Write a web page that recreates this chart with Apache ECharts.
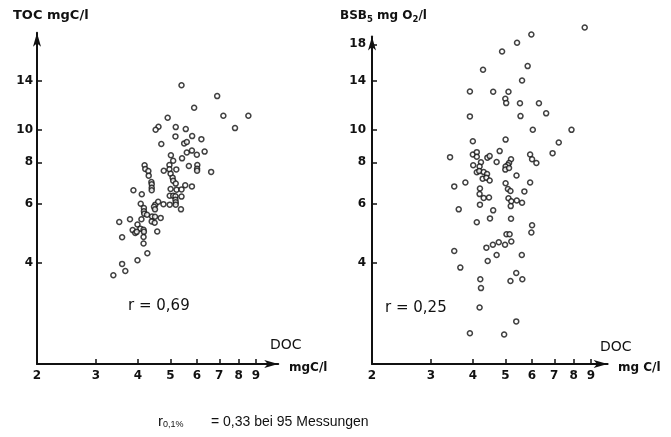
<!DOCTYPE html>
<html>
<head>
<meta charset="utf-8">
<script src="https://cdn.jsdelivr.net/npm/echarts@6/dist/echarts.min.js"></script>
<style>
  html, body { margin: 0; padding: 0; background: #fff; }
  #chart { width: 671px; height: 437px; }
</style>
</head>
<body>
<div id="chart"></div>
<script>
// Tick labels
const docTicks = [2, 3, 4, 5, 6, 7, 8, 9];
const tocTicks = [4, 6, 8, 10, 14];
const bsbTicks = [4, 6, 8, 10, 14, 18];

// Left panel: DOC vs TOC (mg C/l), 95 samples
const docToc = [5.40, 6.90, 5.89, 4.91, 7.20, 8.55, 7.80, 4.61, 4.52, 5.19,
  5.56, 5.18, 5.81, 6.19, 4.70, 5.50, 5.60, 5.02, 5.42, 5.60,
  5.80, 6.00, 6.33, 5.10, 5.68, 6.02, 6.01, 6.01, 6.62, 5.21,
  4.78, 4.97, 4.97, 5.01, 5.08, 4.19, 4.21, 4.30, 4.31, 5.10,
  5.19, 4.39, 4.40, 4.40, 4.40, 5.54, 5.80, 5.01, 5.22, 5.40,
  3.88, 4.11, 4.98, 5.10, 5.18, 5.40, 5.18, 5.19, 5.19, 4.77,
  4.98, 5.38, 4.08, 4.51, 4.47, 4.60, 4.17, 4.17, 4.18, 4.26,
  4.41, 4.50, 4.68, 4.10, 3.79, 3.52, 3.99, 4.40, 4.49, 4.07,
  4.16, 3.86, 3.93, 3.97, 4.17, 4.57, 4.16, 3.59, 4.16, 4.27,
  3.99, 3.59, 3.67, 3.38, 4.50];
const toc = [13.59, 12.61, 11.64, 10.87, 11.02, 11.02, 10.12, 10.21, 10.01, 10.19,
  10.05, 9.56, 9.58, 9.38, 9.07, 9.11, 9.20, 8.40, 8.22, 8.56,
  8.67, 8.43, 8.61, 8.09, 7.80, 7.85, 7.65, 7.55, 7.49, 7.62,
  7.55, 7.85, 7.63, 7.40, 7.20, 7.84, 7.64, 7.53, 7.30, 7.05,
  6.91, 6.99, 6.88, 6.72, 6.60, 6.83, 6.78, 6.66, 6.63, 6.64,
  6.60, 6.42, 6.36, 6.36, 6.33, 6.32, 6.19, 6.08, 5.98, 6.00,
  5.98, 5.79, 6.02, 5.98, 5.89, 6.10, 5.84, 5.71, 5.62, 5.58,
  5.51, 5.50, 5.46, 5.41, 5.41, 5.31, 5.22, 5.33, 5.28, 5.07,
  5.03, 5.02, 4.92, 4.96, 4.96, 4.97, 4.79, 4.78, 4.58, 4.28,
  4.08, 3.98, 3.79, 3.68, 5.79];

// Right panel: DOC (mg C/l) vs BSB5 (mg O2/l)
const docBsb = [8.63, 5.98, 5.42, 4.89, 4.29, 5.83, 5.61, 3.92, 4.60, 5.11,
  5.00, 5.03, 5.53, 6.30, 6.62, 3.92, 5.55, 6.04, 7.88, 4.00,
  5.01, 7.22, 3.42, 4.00, 4.11, 4.11, 4.42, 4.49, 4.81, 5.93,
  6.01, 6.19, 6.92, 4.23, 4.19, 4.01, 4.71, 5.20, 5.13, 5.09,
  5.01, 5.00, 5.13, 4.11, 4.18, 4.31, 4.41, 4.28, 4.39, 4.49,
  5.40, 3.52, 3.80, 5.01, 5.93, 4.20, 4.19, 5.09, 5.18, 5.70,
  4.31, 4.47, 5.11, 5.21, 5.19, 5.41, 5.61, 4.20, 3.63, 4.60,
  4.50, 5.20, 4.11, 6.01, 5.98, 5.04, 5.15, 3.52, 4.39, 4.59,
  4.78, 4.99, 5.21, 4.71, 5.60, 4.43, 3.67, 5.39, 5.18, 5.62,
  4.21, 4.23, 4.19, 5.39, 3.92, 4.96];
const bsb = [20.2, 19.25, 18.19, 17.14, 15.11, 15.5, 14.04, 13.02, 13.0, 13.0,
  12.38, 12.02, 12.0, 12.0, 11.2, 10.97, 10.99, 10.01, 10.0, 9.25,
  9.35, 9.17, 8.29, 8.44, 8.58, 8.31, 8.26, 8.35, 8.64, 8.44,
  8.17, 7.96, 8.52, 8.00, 7.77, 7.84, 8.02, 8.17, 7.96, 7.85,
  7.77, 7.61, 7.69, 7.47, 7.53, 7.48, 7.38, 7.15, 7.20, 7.06,
  7.31, 6.78, 6.96, 6.93, 6.96, 6.68, 6.43, 6.66, 6.57, 6.55,
  6.26, 6.28, 6.25, 6.12, 5.92, 6.15, 6.06, 5.98, 5.79, 5.75,
  5.44, 5.43, 5.30, 5.19, 4.94, 4.88, 4.88, 4.35, 4.45, 4.54,
  4.62, 4.54, 4.64, 4.23, 4.23, 4.06, 3.88, 3.74, 3.54, 3.58,
  3.58, 3.37, 2.95, 2.68, 2.47, 2.45];

const INK = '#111';
const DECADE = 335;      // pixels per factor of ten on every axis
const ORIGIN_Y = 364;    // pixel row of both x axes
const AXIS_MIN = 2;

function gridBox(left, xMax, yMax) {
  const w = Math.log10(xMax / AXIS_MIN) * DECADE;
  const h = Math.log10(yMax / AXIS_MIN) * DECADE;
  return { left: left, top: ORIGIN_Y - h, width: w, height: h, containLabel: false };
}

const axisLine = {
  show: true, onZero: false,
  symbol: ['none', 'arrow'], symbolSize: [6, 14],
  lineStyle: { color: INK, width: 2 }
};
const tickLabelFont = { color: INK, fontFamily: 'DejaVu Sans', fontWeight: 'bold', fontSize: 12 };
const fmt = v => String(Math.round(v));

function xAxisFor(gridIndex, xMax) {
  return {
    type: 'log', logBase: 10, gridIndex, min: AXIS_MIN, max: xMax,
    axisLine,
    axisTick: { show: true, inside: true, length: 5, customValues: docTicks.slice(1),
      lineStyle: { color: INK, width: 1.5 } },
    axisLabel: Object.assign({ customValues: docTicks, formatter: fmt, margin: 6 }, tickLabelFont),
    splitLine: { show: false }, minorTick: { show: false }, minorSplitLine: { show: false }
  };
}
function yAxisFor(gridIndex, yMax, ticks, margin) {
  return {
    type: 'log', logBase: 10, gridIndex, min: AXIS_MIN, max: yMax,
    axisLine,
    axisTick: { show: true, inside: true, length: 5, customValues: ticks,
      lineStyle: { color: INK, width: 1.5 } },
    axisLabel: Object.assign({ customValues: ticks, formatter: fmt, margin }, tickLabelFont),
    splitLine: { show: false }, minorTick: { show: false }, minorSplitLine: { show: false }
  };
}

const dot = {
  type: 'scatter', symbol: 'circle', symbolSize: 5, clip: false, silent: true,
  itemStyle: { color: '#fff', borderColor: INK, borderWidth: 1.5 }
};

function label(text, x, y, font, extra) {
  return Object.assign({
    type: 'text', x, y, silent: true,
    style: { text, font, fill: INK, verticalAlign: 'middle' }
  }, extra || {});
}

const sub = { fontFamily: 'DejaVu Sans', fontWeight: 'bold', fontSize: 8.5, padding: [7, 0, 0, 0] };

const option = {
  backgroundColor: '#fff',
  animation: false,
  grid: [gridBox(37, 10.5, 19.5), gridBox(372, 10.1, 19)],
  xAxis: [xAxisFor(0, 10.5), xAxisFor(1, 10.1)],
  yAxis: [yAxisFor(0, 19.5, tocTicks, 4), yAxisFor(1, 19, bsbTicks, 6)],
  series: [
    Object.assign({ xAxisIndex: 0, yAxisIndex: 0, data: docToc.map((d, i) => [d, toc[i]]) }, dot),
    Object.assign({ xAxisIndex: 1, yAxisIndex: 1, data: docBsb.map((d, i) => [d, bsb[i]]) }, dot)
  ],
  graphic: [
    label('TOC mgC/l', 13, 16, 'bold 13px "DejaVu Sans"'),
    {
      type: 'text', x: 340, y: 16, silent: true,
      style: {
        text: 'BSB{s|5} mg O{s|2}/l', fill: INK, verticalAlign: 'middle',
        font: 'bold 12px "DejaVu Sans"',
        rich: { s: sub }
      }
    },
    label('r = 0,69', 128, 306, '15px "DejaVu Sans"'),
    label('r = 0,25', 385, 308, '15px "DejaVu Sans"'),
    label('DOC', 270, 345, '14px "DejaVu Sans"'),
    label('DOC', 600, 347, '14px "DejaVu Sans"'),
    label('mgC/l', 289, 368, 'bold 12px "DejaVu Sans"'),
    label('mg C/l', 618, 368, 'bold 12px "DejaVu Sans"'),
    {
      type: 'text', x: 158, y: 422, silent: true,
      style: {
        text: 'r{s|0,1%}', fill: INK, verticalAlign: 'middle',
        font: '15px "Liberation Sans"',
        rich: { s: { fontFamily: 'Liberation Sans', fontSize: 9, padding: [6, 0, 0, 0] } }
      }
    },
    label('= 0,33 bei 95 Messungen', 211, 422, '14px "Liberation Sans"')
  ]
};

echarts.init(document.getElementById('chart'), null, { renderer: 'canvas' }).setOption(option);
</script>
</body>
</html>
